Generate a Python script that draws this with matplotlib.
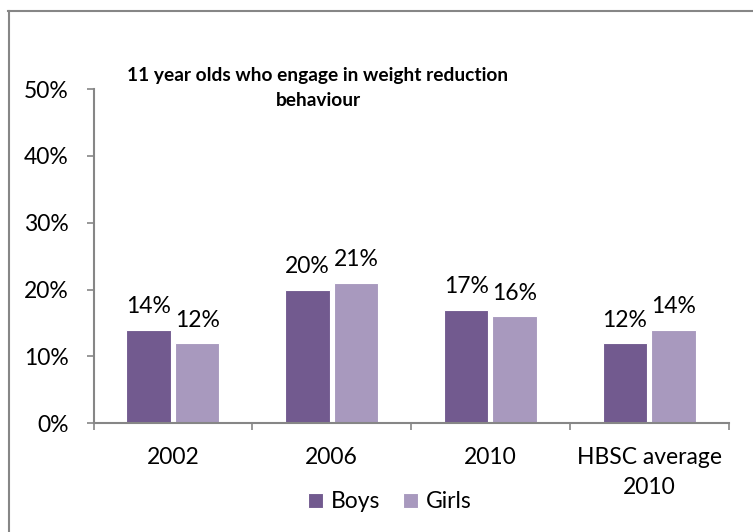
import matplotlib
matplotlib.use("Agg")
import matplotlib.pyplot as plt
from matplotlib.lines import Line2D
from matplotlib.ticker import FuncFormatter, FixedLocator
import numpy as np

categories = ["2002", "2006", "2010", "HBSC average\n2010"]
boys = [14, 20, 17, 12]
girls = [12, 21, 16, 14]
series_names = ["Boys", "Girls"]
title = "11 year olds who engage in weight reduction\nbehaviour"

boys_color = "#725A8F"
girls_color = "#A899BE"
axis_color = "#868686"

plt.rcParams["font.family"] = ["Lato", "DejaVu Sans"]
FS = 16.5

W, H = 753, 532
fig = plt.figure(figsize=(W / 100, H / 100), dpi=100)

# plot area in pixel coordinates
x0, x1 = 93.5, 728.5
y_top, y_bot = 89.0, 423.3
ax = fig.add_axes([x0 / W, 1 - y_bot / H, (x1 - x0) / W, (y_bot - y_top) / H])

x = np.arange(len(categories))
width = 0.28
off = 0.153
b1 = ax.bar(x - off, boys, width, color=boys_color, edgecolor="white", linewidth=0.8, label=series_names[0])
b2 = ax.bar(x + off, girls, width, color=girls_color, edgecolor="white", linewidth=0.8, label=series_names[1])

for bars, vals in ((b1, boys), (b2, girls)):
    for rect, v in zip(bars, vals):
        ax.annotate(f"{v}%", (rect.get_x() + rect.get_width() / 2, v),
                    xytext=(0, 9), textcoords="offset points",
                    ha="center", va="bottom", fontsize=FS, color="#000000")

ax.set_xlim(-0.5, len(categories) - 0.5)
ax.set_ylim(0, 50)
ax.yaxis.set_major_locator(FixedLocator([0, 10, 20, 30, 40, 50]))
ax.yaxis.set_major_formatter(FuncFormatter(lambda v, p: f"{int(v)}%"))

ax.set_xticks(x)
ax.set_xticklabels(categories, fontsize=FS, linespacing=1.55)
ax.xaxis.set_minor_locator(FixedLocator(np.arange(-0.5, len(categories), 1.0)))
ax.tick_params(axis="x", which="major", length=0, pad=17)
ax.tick_params(axis="x", which="minor", length=5, width=1.2, color=axis_color, direction="out")
ax.tick_params(axis="y", length=5, width=1.2, color=axis_color, direction="out", labelsize=FS, pad=13)

for s in ("top", "right"):
    ax.spines[s].set_visible(False)
for s in ("left", "bottom"):
    ax.spines[s].set_color(axis_color)
    ax.spines[s].set_linewidth(1.5)

fig.text(318 / W, 1 - 88 / H, title, ha="center", va="center", multialignment="center",
         fontsize=13.8, fontweight="bold", linespacing=1.5)

fig.legend(handles=[b1, b2], labels=series_names, loc="center", bbox_to_anchor=(390 / W, 1 - 502 / H),
           ncol=2, frameon=False, fontsize=FS, handlelength=0.65, handleheight=0.65,
           handletextpad=0.35, columnspacing=1.0)

# chart frame
fig.add_artist(Line2D([8 / W, 1], [1 - 10.5 / H, 1 - 10.5 / H], color=axis_color, lw=1.5, transform=fig.transFigure))
fig.add_artist(Line2D([8.5 / W, 8.5 / W], [0, 1 - 10.5 / H], color=axis_color, lw=1.5, transform=fig.transFigure))

fig.savefig("out.png", dpi=100)
